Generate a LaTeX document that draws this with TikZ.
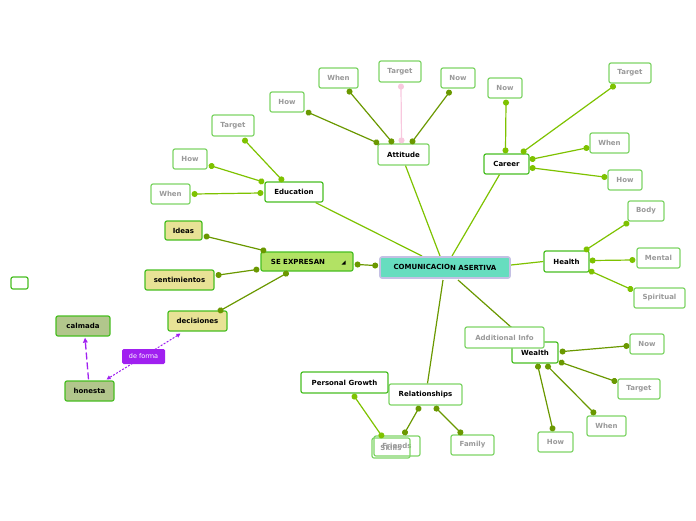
\documentclass[tikz,border=0pt]{standalone}
\usepackage{fontspec}
\setmainfont{DejaVu Sans}
\usetikzlibrary{arrows.meta,calc}
\definecolor{dk}{HTML}{6A9800}
\definecolor{lt}{HTML}{7EC200}
\definecolor{bd}{HTML}{48BE22}
\definecolor{lb}{HTML}{7ED466}
\definecolor{gtext}{HTML}{999999}
\definecolor{teal}{HTML}{66DDBF}
\definecolor{lav}{HTML}{C4C0E4}
\definecolor{lime}{HTML}{B2E264}
\definecolor{khaki}{HTML}{E8E296}
\definecolor{sage}{HTML}{B2C68C}
\definecolor{purp}{HTML}{A020F0}
\definecolor{pink}{HTML}{F8C8DE}
\tikzset{
  sz/.style 2 args={minimum width=#1pt,minimum height=#2pt},
  box/.style={draw=bd,line width=1.2pt,rounded corners=2pt,fill=white,inner sep=0pt,
    font=\bfseries\fontsize{7}{8}\selectfont,text=black},
  leaf/.style={box,draw=lb,text=gtext},
  conn/.style={line width=1.2pt,{Circle[length=6pt]}-{Circle[length=6pt]},shorten <=-3pt,shorten >=-3pt},
  main/.style={line width=1.2pt},
  purpline/.style={purp,line width=1pt}
}
\begin{document}
\begin{tikzpicture}[x=1pt,y=-1pt]
\useasboundingbox (0,0) rectangle (696,520);
% main branch lines (behind)
\coordinate (cEdu) at (422,256);
\coordinate (cAtt) at (440,256);
\coordinate (cCar) at (452,256);
\coordinate (cHea) at (511,265);
\coordinate (cWea) at (458,280);
\coordinate (cRel) at (443,280);
\node[box,sz={58}{20}] (edu) at (294,192) {Education};
\node[box,sz={51}{21},draw=lb] (att) at (403.5,154.5) {Attitude};
\node[box,sz={45}{20}] (career) at (506.5,164) {Career};
\node[box,sz={45}{21}] (health) at (566.5,261.5) {Health};
\node[box,sz={46}{21}] (wealth) at (535,352.5) {Wealth};
\node[box,sz={73}{21},draw=lb] (rel) at (425.5,394.5) {Relationships};
\draw[main,lt] (edu.south east) ++(-8,0) coordinate (eduS) (eduS) -- (cEdu);
\draw[main,lt] (att.south) ++(2,0) coordinate (attS) (attS) -- (cAtt);
\draw[main,lt] (career.south) ++(-7,0) coordinate (carS) (carS) -- (cCar);
\draw[main,lt] (health.west) -- (cHea);
\draw[main,dk] (wealth.north west) ++(0,-14) coordinate (weaN) (weaN) -- (cWea);
\draw[main,dk] (rel.north) ++(2,0) coordinate (relN) (relN) -- (cRel);
\node[leaf,sz={79}{21}] (addinfo) at (504.5,337.5) {Additional Info};
\node[box,draw=lav,line width=1.6pt,fill=teal,sz={130}{21}] (center) at (445,267.5)
  {COMUNICACIO\raisebox{-1pt}{N ASERTIVA}};
\node[box,fill=lime,sz={92}{19}] (seexp) at (307,261.5) {\hspace*{-18pt}SE EXPRESAN};
\fill ($(seexp.east)+(-12,3)$) -- ++(4,0) -- ++(0,-4) -- cycle;
\node[box,sz={87}{21}] (pg) at (344.5,382.5) {Personal Growth};
% leaves
\node[leaf,sz={46}{20}] (friends) at (397,446) {Friends};
\node[leaf,sz={38}{20},fill=none] (skills) at (391,448) {Skills};
\node[leaf,sz={43}{20}] (family) at (472.5,445) {Family};
\node[leaf,sz={35}{20}] (wHow) at (555.5,442) {How};
\node[leaf,sz={39}{20}] (wWhen) at (606.5,426) {When};
\node[leaf,sz={42}{20}] (wTarget) at (639,389) {Target};
\node[leaf,sz={34}{20}] (wNow) at (647,344) {Now};
\node[leaf,sz={36}{20}] (body) at (646,211) {Body};
\node[leaf,sz={43}{20}] (mental) at (658.5,258) {Mental};
\node[leaf,sz={51}{20}] (spiritual) at (659.5,298) {Spiritual};
\node[leaf,sz={34}{20}] (cHow) at (625,180) {How};
\node[leaf,sz={39}{20}] (cWhen) at (609.5,143) {When};
\node[leaf,sz={42}{20}] (cTarget) at (630,73) {Target};
\node[leaf,sz={34}{20}] (cNow) at (505,88) {Now};
\node[leaf,sz={34}{20}] (aNow) at (458,78) {Now};
\node[leaf,sz={42}{21}] (aTarget) at (400,71.5) {Target};
\node[leaf,sz={39}{20}] (aWhen) at (338.5,78) {When};
\node[leaf,sz={34}{20}] (aHow) at (287,102) {How};
\node[leaf,sz={42}{21}] (eTarget) at (233,125.5) {Target};
\node[leaf,sz={34}{20}] (eHow) at (190,159) {How};
\node[leaf,sz={39}{20}] (eWhen) at (170.5,194) {When};
\node[box,fill=khaki,sz={37}{19}] (ideas) at (183.5,230.5) {Ideas};
\node[box,fill=khaki,sz={69}{20}] (sent) at (179.5,280) {sentimientos};
\node[box,fill=khaki,sz={59}{20}] (dec) at (197.5,321) {decisiones};
\node[box,fill=sage,sz={54}{20}] (calm) at (83,326) {calmada};
\node[box,fill=sage,sz={49}{20}] (hon) at (89.5,391) {honesta};
\node[box,sz={17}{12}] (empty) at (19.5,283) {};
% connectors with dots
% attitude
\draw[conn,dk] ($(aHow.south east)+(4,0)$) -- ($(att.north west)+(-1,-1)$);
\draw[conn,dk] ($(aWhen.south)+(11,3)$) -- ($(att.north west)+(14,-2)$);
\draw[conn,pink] ($(aTarget.south)+(1,4)$) -- ($(att.north)+(-2,-3)$);
\draw[conn,dk] ($(aNow.south)+(-9,4)$) -- ($(att.north)+(9,-2)$);
% education
\draw[conn,lt] ($(eTarget.south)+(12,4)$) -- ($(edu.north west)+(17,-2)$);
\draw[conn,lt] ($(eHow.east)+(4,7)$) -- ($(edu.north west)+(-3,0)$);
\draw[conn,lt] ($(eWhen.east)+(4,0)$) -- ($(edu.west)+(-4,1)$);
% career
\draw[conn,lt] ($(cNow.south)+(1,4)$) -- ($(career.north)+(-1,-3)$);
\draw[conn,lt] ($(cTarget.south)+(-17,3)$) -- ($(career.north east)+(-6,-2)$);
\draw[conn,lt] ($(cWhen.west)+(-3,5)$) -- ($(career.east)+(3,-5)$);
\draw[conn,lt] ($(cHow.west)+(-3,-3)$) -- ($(career.east)+(3,4)$);
% health
\draw[conn,lt] ($(body.south west)+(-1,2)$) -- ($(health.north east)+(-3,-1)$);
\draw[conn,lt] ($(mental.west)+(-4,2)$) -- ($(health.east)+(3,-1)$);
\draw[conn,lt] ($(spiritual.west)+(-3,-9)$) -- ($(health.south east)+(2,-1)$);
% wealth
\draw[conn,dk] ($(wNow.west)+(-3,2)$) -- ($(wealth.east)+(4,-1)$);
\draw[conn,dk] ($(wTarget.west)+(-3,-8)$) -- ($(wealth.south east)+(3,-1)$);
\draw[conn,dk] ($(wWhen.north west)+(7,-3)$) -- ($(wealth.south)+(13,3)$);
\draw[conn,dk] ($(wHow.north)+(-3,-3)$) -- ($(wealth.south)+(3,3)$);
% relationships / personal growth
\draw[conn,dk] ($(friends.north)+(8,-3)$) -- ($(rel.south)+(-7,3)$);
\draw[conn,dk] ($(family.north west)+(10,-2)$) -- ($(rel.south)+(11,3)$);
\draw[conn,lt] ($(skills.north west)+(10,-2)$) -- ($(pg.south)+(10,3)$);
% se expresan
\draw[conn,dk] ($(ideas.east)+(4,6)$) -- ($(seexp.north west)+(3,-1)$);
\draw[conn,dk] ($(sent.east)+(4,-5)$) -- ($(seexp.south west)+(-4,-2)$);
\draw[conn,dk] ($(dec.north east)+(-7,0)$) -- ($(seexp.south)+(-21,2)$);
\draw[conn,dk] ($(seexp.east)+(4,3)$) -- ($(center.west)+(-4,-2)$);
% purple relations
\draw[purpline,dash pattern=on 2pt off 1.5pt,{Triangle[length=4pt,width=4pt]}-{Triangle[length=4pt,width=4pt]}]
  ($(dec.south)+(-17,2)$) -- node[pos=0.5,fill=purp,text=white,rounded corners=1.5pt,
  inner sep=0pt,sz={43}{15},font=\fontsize{6.5}{8}\selectfont] (deforma) {de forma} ($(hon.north east)+(-8,-1)$);
\draw[purpline,line width=1.3pt,dash pattern=on 7pt off 3pt,-{Triangle[length=5pt,width=4.5pt]}]
  ($(hon.north)+(-1,-1)$) -- ($(calm.south)+(2,1)$);
\end{tikzpicture}
\end{document}
